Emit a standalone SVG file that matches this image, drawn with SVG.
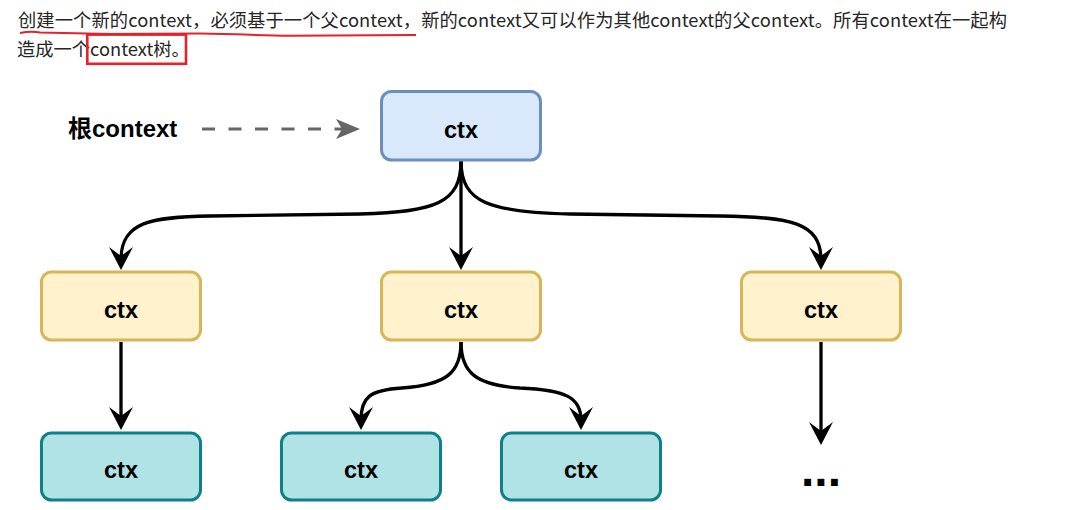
<svg xmlns="http://www.w3.org/2000/svg" width="1086" height="510" viewBox="0 0 1086 510">
  <style>
    .node rect { stroke-width: 3; }
    .root rect { fill: #dae8fc; stroke: #6c8ebf; }
    .mid rect { fill: #fff2cc; stroke: #d6b656; }
    .leaf rect { fill: #b0e3e6; stroke: #0e8088; }
    .lbl { font-family: "Liberation Sans", Arial, Helvetica, sans-serif; font-weight: bold; font-size: 23.5px; fill: #000; text-anchor: middle; }
    .edge { fill: none; stroke: #000; stroke-width: 3.3; marker-end: url(#arr); }
    .note { font-family: "Noto Sans CJK SC", "Noto Sans", sans-serif; font-size: 18.3px; font-weight: 400; fill: #262626; }
  </style>
  <defs>
    <marker id="arr" markerUnits="userSpaceOnUse" viewBox="0 0 23 24" markerWidth="23" markerHeight="24" refX="13" refY="12" orient="auto">
      <path d="M23,12 L0,0 L9,12 L0,24 Z" fill="#000"/>
    </marker>
    <marker id="garr" markerUnits="userSpaceOnUse" viewBox="0 0 24 20" markerWidth="24" markerHeight="20" refX="6" refY="10" orient="auto">
      <path d="M24,10 L0,0 L6,10 L0,20 Z" fill="#666666"/>
    </marker>
  </defs>
  <rect x="0" y="0" width="1086" height="510" fill="#ffffff"/>

  <g id="caption">
    <text class="note" x="18" y="27" textLength="989" lengthAdjust="spacing">创建一个新的context，必须基于一个父context，新的context又可以作为其他context的父context。所有context在一起构</text>
    <text class="note" x="17" y="56">造成一个context树。</text>
    <path d="M20,33 C28,31.5 34,31.5 40,32.5 L110,34 L200,33.5 C240,34 260,35.5 290,35.8 L416,35" fill="none" stroke="#e62129" stroke-width="2"/>
    <rect x="87.3" y="34.6" width="98.7" height="29.2" fill="none" stroke="#e62129" stroke-width="2.6"/>
  </g>

  <g id="root-label">
    <text x="68" y="136.5" font-family="Liberation Sans, Arial, Helvetica, 'Noto Sans CJK SC', sans-serif" font-weight="bold" font-size="24" fill="#000">根context</text>
  </g>

  <g id="connectors">
    <path d="M202,129 L342,129" fill="none" stroke="#666666" stroke-width="3" stroke-dasharray="13 13.5" marker-end="url(#garr)"/>
    <path class="edge" d="M461,161 C461,203 435,212 360,214 L210,216 C150,217 121,222 121,260"/>
    <path class="edge" d="M461,161 L461,260"/>
    <path class="edge" d="M461,161 C461,203 490,212 570,214 L720,216 C790,217 821,222 821,260"/>
    <path class="edge" d="M121,342 L121,420"/>
    <path class="edge" d="M461,342 C461,372 447,385 402,388 C370,390 361,397 361,420"/>
    <path class="edge" d="M461,342 C461,372 475,385 520,388 C565,390 581,397 581,420"/>
    <path class="edge" d="M821,342 L821,435"/>
  </g>

  <g id="node-root" class="node root">
    <rect x="381.5" y="91.5" width="159" height="68.5" rx="10" ry="10"/>
    <text class="lbl" x="461" y="137.5">ctx</text>
  </g>
  <g id="node-mid-left" class="node mid">
    <rect x="41.5" y="272" width="159" height="68" rx="10" ry="10"/>
    <text class="lbl" x="121" y="317.5">ctx</text>
  </g>
  <g id="node-mid-center" class="node mid">
    <rect x="381.5" y="272" width="159" height="68" rx="10" ry="10"/>
    <text class="lbl" x="461" y="317.5">ctx</text>
  </g>
  <g id="node-mid-right" class="node mid">
    <rect x="741.5" y="272" width="159" height="68" rx="10" ry="10"/>
    <text class="lbl" x="821" y="317.5">ctx</text>
  </g>
  <g id="node-leaf-1" class="node leaf">
    <rect x="41.5" y="433" width="159" height="67" rx="10" ry="10"/>
    <text class="lbl" x="121" y="477.5">ctx</text>
  </g>
  <g id="node-leaf-2" class="node leaf">
    <rect x="281.5" y="433" width="159" height="67" rx="10" ry="10"/>
    <text class="lbl" x="361" y="477.5">ctx</text>
  </g>
  <g id="node-leaf-3" class="node leaf">
    <rect x="501.5" y="433" width="159" height="67" rx="10" ry="10"/>
    <text class="lbl" x="581" y="477.5">ctx</text>
  </g>
  <g id="node-more">
    <text x="821" y="486" font-family="Liberation Sans, Arial, Helvetica, sans-serif" font-weight="bold" font-size="48" fill="#000" text-anchor="middle">...</text>
  </g>
</svg>
